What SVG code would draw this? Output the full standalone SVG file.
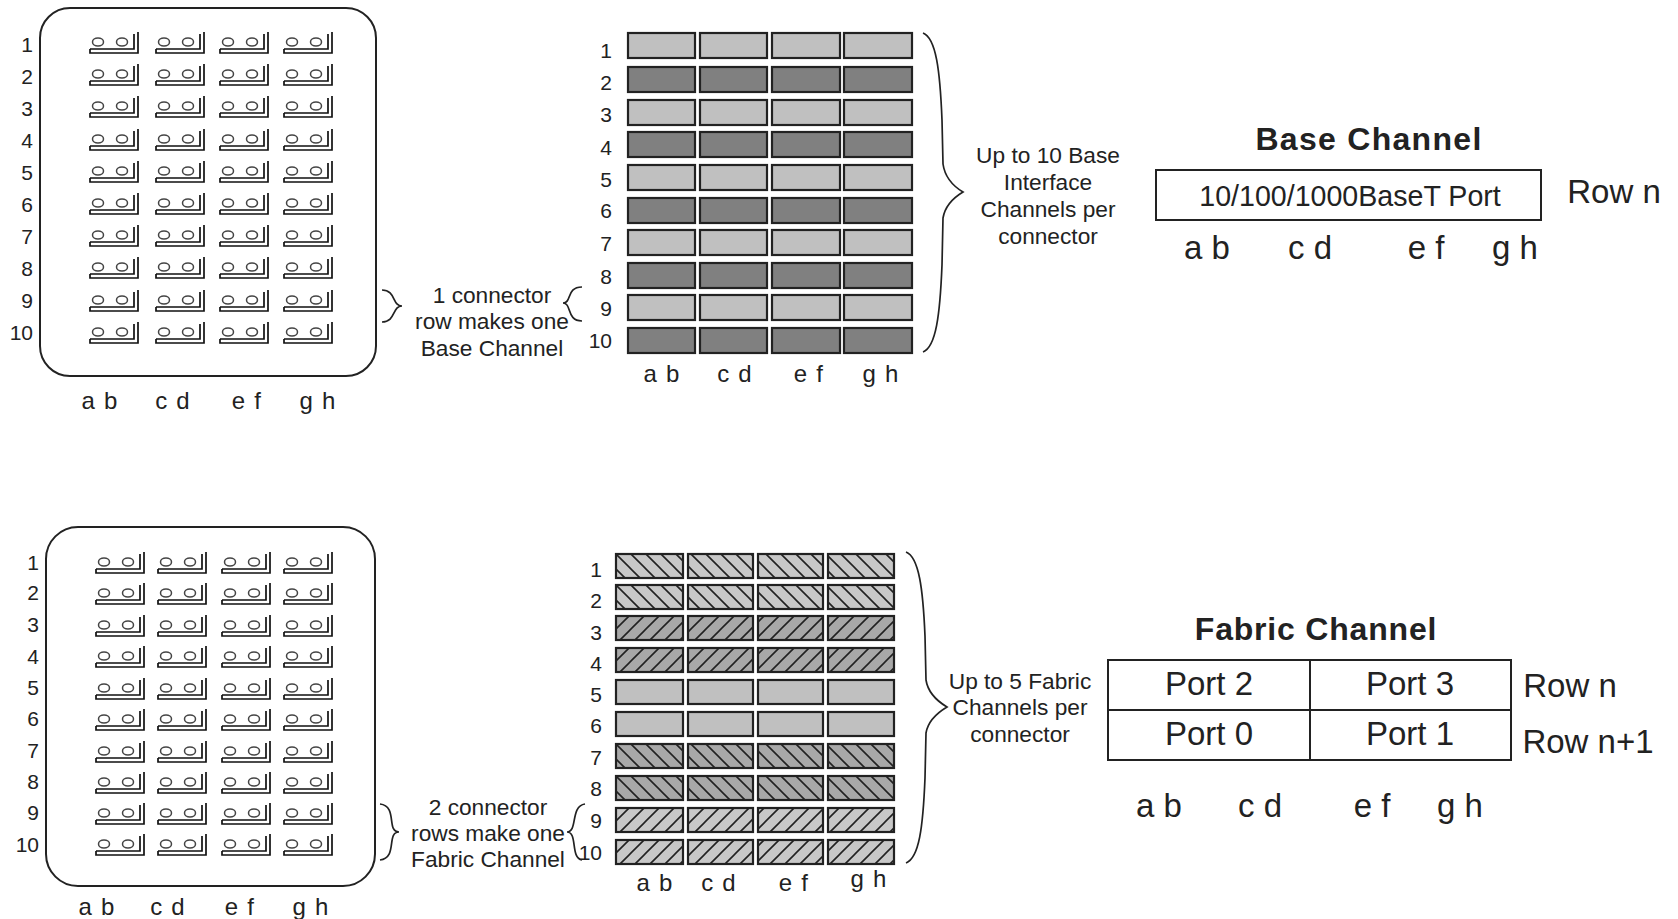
<svg xmlns="http://www.w3.org/2000/svg" width="1678" height="919" viewBox="0 0 1678 919">
<style>
text{font-family:"Liberation Sans",Arial,sans-serif;fill:#222}
.n{font-size:21px;text-anchor:end}
.c{font-size:24px;letter-spacing:1.2px;text-anchor:middle}
.t{font-size:22.7px;text-anchor:middle}
.h{font-size:32px;font-weight:bold;text-anchor:middle;letter-spacing:1.3px}
.p{font-size:33px;text-anchor:middle}
.box{fill:#fff;stroke:#222;stroke-width:2}
.cell{stroke:#222;stroke-width:2.2}
.brace{fill:none;stroke:#222;stroke-width:1.7}
.gl{fill:none;stroke:#111;stroke-width:1.7}
.e{stroke:#444;stroke-width:1.5}
.l{fill:#c0c0c0}.d{fill:#808080}
.hb{fill:url(#hl)}.hf{fill:url(#hd)}.hB{fill:url(#bd)}.hF{fill:url(#fl)}
</style>
<defs>
<pattern id="hl" patternUnits="userSpaceOnUse" width="15" height="15"><rect width="15" height="15" fill="#c8c8c8"/><path d="M-2,-2L17,17M-2,13L2,17M13,-2L17,2" stroke="#222" stroke-width="1.6"/></pattern>
<pattern id="bd" patternUnits="userSpaceOnUse" width="15" height="15"><rect width="15" height="15" fill="#a8a8a8"/><path d="M-2,-2L17,17M-2,13L2,17M13,-2L17,2" stroke="#222" stroke-width="1.6"/></pattern>
<pattern id="hd" patternUnits="userSpaceOnUse" width="15" height="15"><rect width="15" height="15" fill="#a8a8a8"/><path d="M-2,17L17,-2M-2,2L2,-2M13,17L17,13" stroke="#222" stroke-width="1.6"/></pattern>
<pattern id="fl" patternUnits="userSpaceOnUse" width="15" height="15"><rect width="15" height="15" fill="#c8c8c8"/><path d="M-2,17L17,-2M-2,2L2,-2M13,17L17,13" stroke="#222" stroke-width="1.6"/></pattern>
<g id="g" class="gl"><ellipse class="e" cx="8" cy="10" rx="5.5" ry="4"/><ellipse class="e" cx="32" cy="10" rx="5.5" ry="4"/><path d="M0,17H44V2M48,0V21H0V17"/></g>
<g id="gt"><use href="#g" x="90"/><use href="#g" x="156"/><use href="#g" x="220"/><use href="#g" x="284"/></g>
<g id="gb"><use href="#g" x="96"/><use href="#g" x="158"/><use href="#g" x="222"/><use href="#g" x="284"/></g>
<g id="ct" class="cell"><rect x="628" y="1" width="67" height="25"/><rect x="700" y="1" width="67" height="25"/><rect x="772" y="1" width="68" height="25"/><rect x="844" y="1" width="68" height="25"/></g>
<g id="cb" class="cell"><rect x="616" y="1" width="67" height="24"/><rect x="688" y="1" width="65" height="24"/><rect x="758" y="1" width="65" height="24"/><rect x="828" y="1" width="66" height="24"/></g>
</defs>
<rect width="1678" height="919" fill="#fff"/>

<g id="base-connector">
<rect class="box" x="40" y="8" width="336" height="368" rx="30"/>
<use href="#gt" y="32"/><use href="#gt" y="64"/><use href="#gt" y="96"/><use href="#gt" y="129"/><use href="#gt" y="161"/><use href="#gt" y="193"/><use href="#gt" y="225"/><use href="#gt" y="257"/><use href="#gt" y="290"/><use href="#gt" y="322"/>
<text class="n" x="33" y="52">1</text><text class="n" x="33" y="84">2</text><text class="n" x="33" y="116">3</text><text class="n" x="33" y="148">4</text><text class="n" x="33" y="180">5</text><text class="n" x="33" y="212">6</text><text class="n" x="33" y="244">7</text><text class="n" x="33" y="276">8</text><text class="n" x="33" y="308">9</text><text class="n" x="33" y="340">10</text>
<text class="c" x="100" y="409">a b</text><text class="c" x="173" y="409">c d</text><text class="c" x="247" y="409">e f</text><text class="c" x="318" y="409">g h</text>
</g>

<g id="base-grid">
<use href="#ct" y="32" class="l"/><use href="#ct" y="66" class="d"/><use href="#ct" y="99" class="l"/><use href="#ct" y="131" class="d"/><use href="#ct" y="164" class="l"/><use href="#ct" y="197" class="d"/><use href="#ct" y="229" class="l"/><use href="#ct" y="262" class="d"/><use href="#ct" y="294" class="l"/><use href="#ct" y="327" class="d"/>
<text class="n" x="612" y="58">1</text><text class="n" x="612" y="90">2</text><text class="n" x="612" y="122">3</text><text class="n" x="612" y="155">4</text><text class="n" x="612" y="187">5</text><text class="n" x="612" y="218">6</text><text class="n" x="612" y="251">7</text><text class="n" x="612" y="284">8</text><text class="n" x="612" y="316">9</text><text class="n" x="612" y="348">10</text>
<text class="c" x="662" y="382">a b</text><text class="c" x="735" y="382">c d</text><text class="c" x="809" y="382">e f</text><text class="c" x="881" y="382">g h</text>
</g>

<g id="base-channel">
<text class="h" x="1369" y="150">Base Channel</text>
<rect class="box" x="1156" y="170" width="385" height="50"/>
<text class="p" x="1350" y="206" style="font-size:28.6px">10/100/1000BaseT Port</text>
<text class="p" x="1207" y="259">a b</text><text class="p" x="1310" y="259">c d</text><text class="p" x="1426" y="259">e f</text><text class="p" x="1515" y="259">g h</text>
<text class="p" x="1614" y="203">Row n</text>
</g>

<g id="fabric-connector">
<rect class="box" x="46" y="527" width="329" height="359" rx="32"/>
<use href="#gb" y="552"/><use href="#gb" y="583"/><use href="#gb" y="615"/><use href="#gb" y="646"/><use href="#gb" y="678"/><use href="#gb" y="709"/><use href="#gb" y="741"/><use href="#gb" y="772"/><use href="#gb" y="803"/><use href="#gb" y="834"/>
<text class="n" x="39" y="570">1</text><text class="n" x="39" y="600">2</text><text class="n" x="39" y="632">3</text><text class="n" x="39" y="664">4</text><text class="n" x="39" y="695">5</text><text class="n" x="39" y="726">6</text><text class="n" x="39" y="758">7</text><text class="n" x="39" y="789">8</text><text class="n" x="39" y="820">9</text><text class="n" x="39" y="852">10</text>
<text class="c" x="97" y="915">a b</text><text class="c" x="168" y="915">c d</text><text class="c" x="240" y="915">e f</text><text class="c" x="311" y="915">g h</text>
</g>

<g id="fabric-grid">
<use href="#cb" y="553" class="hb"/><use href="#cb" y="584" class="hb"/><use href="#cb" y="615" class="hf"/><use href="#cb" y="647" class="hf"/><use href="#cb" y="679" class="l"/><use href="#cb" y="711" class="l"/><use href="#cb" y="743" class="hB"/><use href="#cb" y="775" class="hB"/><use href="#cb" y="807" class="hF"/><use href="#cb" y="839" class="hF"/>
<text class="n" x="602" y="577">1</text><text class="n" x="602" y="608">2</text><text class="n" x="602" y="640">3</text><text class="n" x="602" y="671">4</text><text class="n" x="602" y="702">5</text><text class="n" x="602" y="733">6</text><text class="n" x="602" y="765">7</text><text class="n" x="602" y="796">8</text><text class="n" x="602" y="828">9</text><text class="n" x="602" y="860">10</text>
<text class="c" x="655" y="891">a b</text><text class="c" x="719" y="891">c d</text><text class="c" x="794" y="891">e f</text><text class="c" x="869" y="887">g h</text>
</g>

<g id="fabric-channel">
<text class="h" x="1316" y="640" style="letter-spacing:.8px">Fabric Channel</text>
<rect class="box" x="1108" y="660" width="403" height="100"/>
<path d="M1310,660V760M1108,710H1511" stroke="#222" stroke-width="2" fill="none"/>
<text class="p" x="1209" y="695">Port 2</text><text class="p" x="1410" y="695">Port 3</text>
<text class="p" x="1209" y="745">Port 0</text><text class="p" x="1410" y="745">Port 1</text>
<text class="p" x="1570" y="697">Row n</text><text class="p" x="1588" y="753">Row n+1</text>
<text class="p" x="1159" y="817">a b</text><text class="p" x="1260" y="817">c d</text><text class="p" x="1372" y="817">e f</text><text class="p" x="1460" y="817">g h</text>
</g>

<g id="labels">
<text class="t" x="492" y="303">1 connector</text><text class="t" x="492" y="329">row makes one</text><text class="t" x="492" y="356">Base Channel</text>
<text class="t" x="1048" y="163">Up to 10 Base</text><text class="t" x="1048" y="190">Interface</text><text class="t" x="1048" y="217">Channels per</text><text class="t" x="1048" y="244">connector</text>
<text class="t" x="488" y="815">2 connector</text><text class="t" x="488" y="841">rows make one</text><text class="t" x="488" y="867">Fabric Channel</text>
<text class="t" x="1020" y="689">Up to 5 Fabric</text><text class="t" x="1020" y="715">Channels per</text><text class="t" x="1020" y="742">connector</text>
</g>

<g id="connectors">
<path class="brace" d="M382,290C396,290 392,306 402,306C392,306 396,322 382,322"/>
<path class="brace" d="M582,287C566,287 572,303 563,303C572,303 566,321 582,321"/>
<path class="brace" d="M923,33C936,38 940,70 942,120L943,164C945,178 953,186 963,192C953,198 945,206 943,218L942,265C940,315 936,347 923,352"/>
<path class="brace" d="M380,804C398,806 386,832 399,832C386,832 398,858 380,860"/>
<path class="brace" d="M585,804C570,806 578,832 567,832C578,832 570,858 582,860"/>
<path class="brace" d="M906,552C919,557 923,589 925,636L926,680C928,693 937,701 947,707C937,713 928,721 926,733L925,778C923,828 919,858 906,863"/>
</g>
</svg>
